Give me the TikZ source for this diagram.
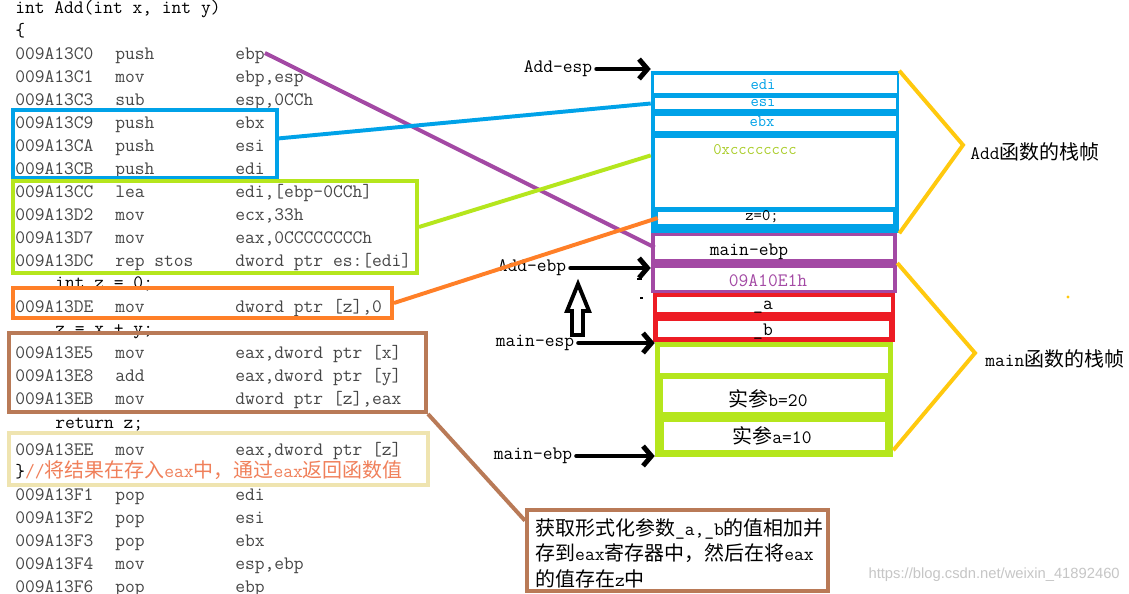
\documentclass[tikz,border=0pt]{standalone}
\usepackage{fontspec}
\newfontfamily\cjk{Noto Sans CJK SC}
\newfontfamily\wmfont{Liberation Sans}
\usetikzlibrary{fit, arrows.meta}

\definecolor{paintblue}{RGB}{0,162,232}
\definecolor{paintlime}{RGB}{181,230,29}
\definecolor{paintorange}{RGB}{255,127,39}
\definecolor{paintbrown}{RGB}{185,122,87}
\definecolor{paintbeige}{RGB}{239,228,176}
\definecolor{paintpurple}{RGB}{163,73,164}
\definecolor{paintred}{RGB}{237,28,36}
\definecolor{paintyellow}{RGB}{255,201,14}
\definecolor{cclime}{RGB}{170,205,40}
\definecolor{commentred}{RGB}{240,128,90}
\definecolor{codegray}{RGB}{70,70,70}

\newcommand\codefont{\ttfamily\fontsize{13.5}{16}\selectfont}
\newcommand\cellfont{\ttfamily\fontsize{11.5}{12}\selectfont}
\newcommand\zh[1]{{\cjk\fontsize{14.2}{16}\selectfont #1}}

\tikzset{
  codeline/.style={anchor=west, inner sep=0pt, font=\codefont, text=codegray,
    text height=8.6pt, text depth=0pt},
  srcline/.style={codeline, text=black},
  codebox/.style={draw=#1, line width=2.8pt, inner sep=0pt},
  wire/.style={draw=#1, line width=2.8pt},
  stackframe/.style={fill=#1, inner sep=0pt},
  stackcell/.style={fill=white, inner sep=0pt},
  cellnote/.style={inner sep=0pt, font=\cellfont},
  slotnote/.style={inner sep=0pt, font=\codefont, text height=8.6pt, text depth=0pt},
  ptrnote/.style={inner sep=3pt, font=\codefont, text=black},
  ptrarrow/.style={line width=3.5pt, line cap=round, -{Straight Barb[length=6pt,width=14pt]}},
  framebrace/.style={draw=paintyellow, line width=2.8pt},
}

\begin{document}
\begin{tikzpicture}[x=0.025cm, y=-0.025cm]
  \useasboundingbox (0,0) rectangle (1129,593);
  \fill[white] (0,0) rectangle (1129,593);

  % source and disassembly
  \node[srcline] (sig) at (15,7) {int Add(int x, int y)};
  \node[srcline] (lbrace) at (15,30) {\{};
  \foreach \y/\addr/\op/\arg in {
    53/009A13C0/push/ebp, 76/009A13C1/mov/{ebp,esp}, 99/009A13C3/sub/{esp,0CCh},
    122/009A13C9/push/ebx, 145/009A13CA/push/esi, 168/009A13CB/push/edi,
    191/009A13CC/lea/{edi,[ebp-0CCh]}, 214/009A13D2/mov/{ecx,33h},
    237/009A13D7/mov/{eax,0CCCCCCCCh}, 260/009A13DC/rep stos/{dword ptr es:[edi]},
    306/009A13DE/mov/{dword ptr [z],0},
    352/009A13E5/mov/{eax,dword ptr [x]}, 375/009A13E8/add/{eax,dword ptr [y]},
    398/009A13EB/mov/{dword ptr [z],eax},
    449/009A13EE/mov/{eax,dword ptr [z]},
    494/009A13F1/pop/edi, 517/009A13F2/pop/esi, 540/009A13F3/pop/ebx,
    563/009A13F4/mov/{esp,ebp}, 586/009A13F6/pop/ebp}
  {
    \node[codeline] (addr\y) at (15,\y) {\addr};
    \node[codeline] (op\y) at (115,\y) {\op};
    \node[codeline] (arg\y) at (235,\y) {\arg};
  }
  \node[srcline] (zdecl) at (55,282) {int z = 0;};
  \node[srcline] (zsum) at (55,328) {z = x + y;};
  \node[srcline] (zret) at (55,422) {return z;};
  \node[srcline] (rbrace) at (15,471)
    {\}\textcolor{commentred}{//\zh{将结果在存入}eax\zh{中，通过}eax\zh{返回函数值}}};

  % boxes round the code
  \node[codebox=paintblue, fit={(13,110) (277,178)}] (pushbox) {};
  \node[codebox=paintlime, fit={(13,181) (417,273)}] (initbox) {};
  \node[codebox=paintorange, fit={(13,288) (392,318)}] (zerobox) {};
  \node[codebox=paintbrown, fit={(9,333) (426,412)}] (sumbox) {};
  \node[codebox=paintbeige, fit={(9,433) (428,485)}] (retbox) {};

  % stack
  \node[stackframe=paintblue, fit={(651,71) (899,233)}] (addframe) {};
  \node[stackcell, fit={(654,75) (897,93)}] (edi) {};
  \node[stackcell, fit={(655,98) (896,109)}] (esi) {};
  \node[stackcell, fit={(655,116) (896,131)}] (ebx) {};
  \node[stackcell, fit={(655,138) (895,207)}] (fillcell) {};
  \node[stackcell, fit={(658,212) (893,224)}] (zcell) {};
  \node[stackframe=paintpurple, fit={(651,233) (897,293)}] (retframe) {};
  \node[stackcell, fit={(655,236) (893,259)}] (mebp) {};
  \node[stackcell, fit={(655,268) (893,290)}] (retaddr) {};
  \node[stackframe=paintred, fit={(653,293) (895,342)}] (argframe) {};
  \node[stackcell, fit={(657,297) (891,312)}] (acell) {};
  \node[stackcell, fit={(658,321) (889,337)}] (bcell) {};
  \node[stackframe=paintlime, fit={(655,342) (893,457)}] (limeframe) {};
  \node[stackcell, fit={(660,347) (888,373)}] (mcell) {};
  \node[stackcell, fit={(663,379) (885,412)}] (bval) {};
  \node[stackcell, fit={(664,422) (885,450)}] (aval) {};

  \node[cellnote, text=paintblue] (edilab) at (763,85) {edi};
  \node[cellnote, text=paintblue] (esilab) at (763,102) {esi};
  \node[cellnote, text=paintblue] (ebxlab) at (762,122) {ebx};
  \node[cellnote, text=cclime] (cclab) at (755,150) {0xcccccccc};
  \node[cellnote] (zlab) at (762,217) {z=0;};
  \node[slotnote] (mebplab) at (749,249) {main-ebp};
  \node[slotnote, text=paintpurple] (retlab) at (768,280) {09A10E1h};
  \node[slotnote] (alab) at (763,303) {\_a};
  \node[slotnote] (blab) at (763,329) {\_b};
  \node[slotnote] (bvallab) at (768,400) {\zh{实参}b=20};
  \node[slotnote] (avallab) at (772,437) {\zh{实参}a=10};

  % frame braces
  \coordinate (addtip) at (963,145);
  \coordinate (maintip) at (975,353);
  \draw[framebrace] (addframe.north east) -- (addtip) -- (addframe.south east);
  \draw[framebrace] (retframe.east) -- (maintip) -- ([yshift=5pt]limeframe.south east);
  \node[srcline] (addlab) at (970,153) {Add\zh{函数的栈帧}};
  \node[srcline] (mainlab) at (985,360) {main\zh{函数的栈帧}};
  \fill[paintyellow] (1068,297) circle (1.2pt);

  % pointers
  \node[ptrnote] (aesp) at (558,69) {Add-esp};
  \node[ptrnote] (aebp) at (532,268) {Add-ebp};
  \node[ptrnote] (mesp) at (535,343) {main-esp};
  \node[ptrnote] (mebpptr) at (533,456) {main-ebp};
  \draw[ptrarrow] (aesp.east) -- (aesp.east -| addframe.west);
  \draw[ptrarrow] (aebp.east) -- (aebp.east -| retframe.west);
  \draw[ptrarrow] (mesp.east) -- (mesp.east -| limeframe.west);
  \draw[ptrarrow] (mebpptr.east) -- (mebpptr.east -| limeframe.west);
  \draw[line width=2.8pt, fill=white] (572,335) -- (572,311) -- (567,311) -- (578,284)
    -- (589,311) -- (583,311) -- (583,335) -- cycle;
  \draw[line width=1.4pt] (637,279) -- (642,279);
  \draw[line width=1.2pt] (640,298) -- (643,298);

  % note
  \node[codebox=paintbrown, fit={(527,510) (828,591)}] (note) {};
  \node[anchor=north west, inner sep=0pt, align=left, text=black,
        font=\ttfamily\fontsize{13.5}{18.2}\selectfont] (notetext) at (535,518)
    {\zh{获取形式化参数}\_a,\_b\zh{的值相加并}\\
     \zh{存到}eax\zh{寄存器中，然后在将}eax\\
     \zh{的值存在}z\zh{中}};

  % links from code to stack
  \draw[wire=paintpurple] (arg53.east) -- (mebp.west);
  \draw[wire=paintblue] ([yshift=4pt]pushbox.east) -- (addframe.west |- esi);
  \draw[wire=paintlime] (initbox.east) -- (addframe.west |- cclab.south);
  \draw[wire=paintorange] (zerobox.east) -- (zcell.west);
  \draw[wire=paintbrown] (sumbox.south east) -- ([yshift=-9pt]note.north west);

  \node[anchor=east, inner sep=0pt, text=gray!45,
        font=\wmfont\fontsize{10.5}{12}\selectfont] (mark) at (1120,575)
    {https://blog.csdn.net/weixin\_41892460};
\end{tikzpicture}
\end{document}
